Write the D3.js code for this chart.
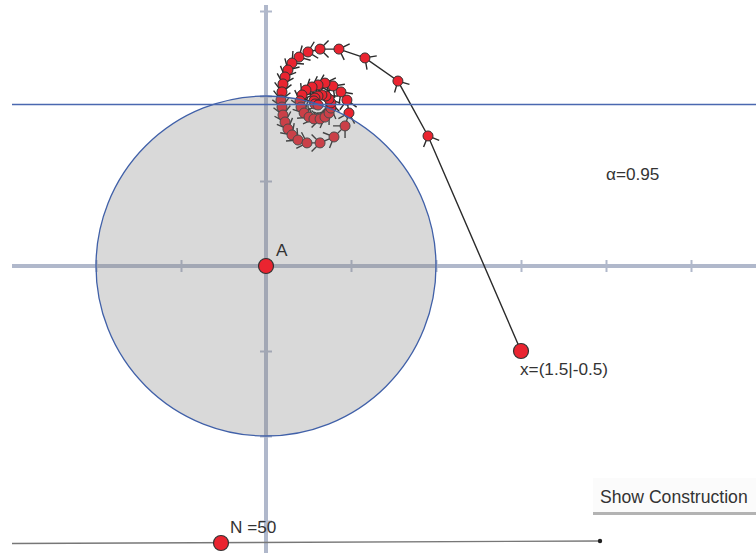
<!DOCTYPE html>
<html>
<head>
<meta charset="utf-8">
<script src="https://cdn.jsdelivr.net/npm/d3@7"></script>
<style>
  body { margin: 0; background: #fff; }
  svg { display: block; font-family: "Liberation Sans", Arial, sans-serif; }
</style>
</head>
<body>
<div id="view"></div>
<script>
// Iteration points x0 .. x50 (math coordinates)
const iterX = [1.5, 0.953, 0.776, 0.582, 0.429, 0.318, 0.247, 0.194, 0.153, 0.129,
  0.112, 0.100, 0.094, 0.088, 0.094, 0.100, 0.112, 0.129, 0.153, 0.188,
  0.241, 0.318, 0.400, 0.465, 0.488, 0.476, 0.441, 0.394, 0.347, 0.306,
  0.271, 0.235, 0.212, 0.200, 0.206, 0.224, 0.253, 0.282, 0.318, 0.347,
  0.371, 0.382, 0.382, 0.371, 0.353, 0.329, 0.306, 0.288, 0.282, 0.288, 0.306];
const iterY = [-0.5, 0.765, 1.088, 1.224, 1.276, 1.276, 1.259, 1.229, 1.194, 1.153,
  1.112, 1.071, 1.024, 0.976, 0.935, 0.888, 0.847, 0.806, 0.771, 0.741,
  0.724, 0.724, 0.759, 0.824, 0.900, 0.976, 1.024, 1.059, 1.076, 1.065,
  1.053, 1.035, 1.006, 0.971, 0.935, 0.900, 0.876, 0.865, 0.865, 0.876,
  0.900, 0.929, 0.959, 0.982, 1.000, 1.006, 1.000, 0.988, 0.971, 0.953, 0.947];

const alpha = 0.95;
const radius = 1;
const nValue = 50;
const xTicks = [-1, -0.5, 0.5, 1, 1.5, 2, 2.5];
const yTicks = [1.5, 1, 0.5, -0.5, -1, -1.5];

const width = 756, height = 558;

const x = d3.scaleLinear().domain([-266 / 170, 490 / 170]).range([0, width]);
const y = d3.scaleLinear().domain([266 / 170, -292 / 170]).range([0, height]);

const svg = d3.select("#view").append("svg")
  .attr("width", width)
  .attr("height", height);

const axisColor = "#b0b8cb";

// axes
svg.append("line")
  .attr("x1", 12).attr("x2", width)
  .attr("y1", y(0)).attr("y2", y(0))
  .attr("stroke", axisColor).attr("stroke-width", 4);
svg.append("line")
  .attr("x1", x(0)).attr("x2", x(0))
  .attr("y1", 5).attr("y2", 553)
  .attr("stroke", axisColor).attr("stroke-width", 4);

const xAxis = svg.append("g")
  .attr("transform", "translate(0," + (y(0) - 6) + ")")
  .call(d3.axisBottom(x).tickValues(xTicks).tickFormat("").tickSize(12));
const yAxis = svg.append("g")
  .attr("transform", "translate(" + (x(0) + 6) + ",0)")
  .call(d3.axisLeft(y).tickValues(yTicks).tickFormat("").tickSize(12));
[xAxis, yAxis].forEach(g => {
  g.select(".domain").remove();
  g.selectAll(".tick line").attr("stroke", axisColor).attr("stroke-width", 2);
});

// iteration path with arrow heads
const pts = iterX.map((v, i) => [x(v), y(iterY[i])]);
const spiral = svg.append("g");

spiral.append("path")
  .attr("d", d3.line()(pts))
  .attr("fill", "none")
  .attr("stroke", "#2b2b2b")
  .attr("stroke-width", 1.4);

const wing = 12, spread = Math.PI / 4;
const heads = [];
for (let i = 1; i < pts.length; i++) {
  const [x1, y1] = pts[i - 1], [x2, y2] = pts[i];
  const back = Math.atan2(y1 - y2, x1 - x2);
  heads.push([[x2 + wing * Math.cos(back + spread), y2 + wing * Math.sin(back + spread)],
              [x2, y2],
              [x2 + wing * Math.cos(back - spread), y2 + wing * Math.sin(back - spread)]]);
}
spiral.selectAll(".head")
  .data(heads)
  .enter()
  .append("path")
  .attr("class", "head")
  .attr("d", d => d3.line()(d))
  .attr("fill", "none")
  .attr("stroke", "#2b2b2b")
  .attr("stroke-width", 1.4);

spiral.selectAll(".pt")
  .data(pts.slice(1))
  .enter()
  .append("circle")
  .attr("class", "pt")
  .attr("cx", d => d[0])
  .attr("cy", d => d[1])
  .attr("r", 5)
  .attr("fill", "#ea2430")
  .attr("stroke", "#333")
  .attr("stroke-width", 1);

// circle around A
svg.append("circle")
  .attr("cx", x(0)).attr("cy", y(0))
  .attr("r", x(radius) - x(0))
  .attr("fill", "rgba(128,128,128,0.3)")
  .attr("stroke", "#4060a8")
  .attr("stroke-width", 1.3);

// line y = alpha
svg.append("line")
  .attr("x1", 12).attr("x2", width)
  .attr("y1", y(alpha)).attr("y2", y(alpha))
  .attr("stroke", "#4a68b0")
  .attr("stroke-width", 1.5);

// start point and A
svg.append("circle")
  .attr("cx", pts[0][0]).attr("cy", pts[0][1]).attr("r", 7.5)
  .attr("fill", "#ea2430").attr("stroke", "#333").attr("stroke-width", 1.2);
svg.append("circle")
  .attr("cx", x(0)).attr("cy", y(0)).attr("r", 7.5)
  .attr("fill", "#ea2430").attr("stroke", "#333").attr("stroke-width", 1.2);

const labelStyle = sel => sel.attr("font-size", 17.2).attr("fill", "#333");
svg.append("text").attr("x", 276).attr("y", 256).text("A").call(labelStyle);
svg.append("text").attr("x", 520).attr("y", 375)
  .text("x=(" + iterX[0] + "|" + iterY[0] + ")").call(labelStyle);
svg.append("text").attr("x", 606).attr("y", 180)
  .text("α=" + alpha).call(labelStyle);

// slider N
svg.append("line")
  .attr("x1", 12).attr("y1", 543.5).attr("x2", 600).attr("y2", 541)
  .attr("stroke", "#777").attr("stroke-width", 1.4);
svg.append("circle").attr("cx", 600).attr("cy", 541).attr("r", 2.2).attr("fill", "#222");
svg.append("circle").attr("cx", 221).attr("cy", 543).attr("r", 7.5)
  .attr("fill", "#ea2430").attr("stroke", "#333").attr("stroke-width", 1.2);
svg.append("text").attr("x", 230).attr("y", 533).text("N =" + nValue).call(labelStyle);

// button
svg.append("rect").attr("x", 593).attr("y", 478).attr("width", 163).attr("height", 35)
  .attr("fill", "#fbfbfb");
svg.append("rect").attr("x", 593).attr("y", 512).attr("width", 163).attr("height", 3)
  .attr("fill", "#b3b3b3");
svg.append("text").attr("x", 600).attr("y", 502.5)
  .attr("font-size", 17.6).attr("fill", "#333").text("Show Construction");
</script>
</body>
</html>
